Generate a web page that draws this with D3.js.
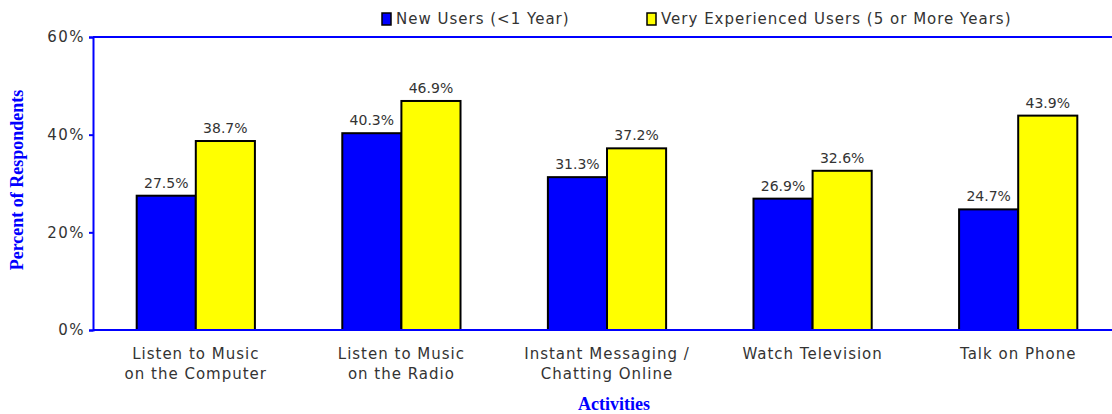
<!DOCTYPE html>
<html>
<head>
<meta charset="utf-8">
<script src="https://cdn.jsdelivr.net/npm/d3@7"></script>
<style>
  body { margin: 0; background: #fff; }
  svg text { font-family: Verdana, "DejaVu Sans", sans-serif; fill: #333; }
  .title { font-family: "Liberation Serif", "Times New Roman", serif; font-weight: bold; fill: #0000ff; }
</style>
</head>
<body>
<svg id="chart" width="1112" height="414"></svg>
<script>
var categories = [
    ["Listen to Music", "on the Computer"],
    ["Listen to Music", "on the Radio"],
    ["Instant Messaging /", "Chatting Online"],
    ["Watch Television"],
    ["Talk on Phone"]
];
var seriesNames = ["New Users (<1 Year)", "Very Experienced Users (5 or More Years)"];
var newUsers = [27.5, 40.3, 31.3, 26.9, 24.7];
var veteranUsers = [38.7, 46.9, 37.2, 32.6, 43.9];
var yTicks = [0, 20, 40, 60];
var colors = ["#0000ff", "#ffff00"];

var svg = d3.select("#chart");
var plotL = 93, plotT = 37, plotB = 330, plotR = 1121;

var x = d3.scaleBand()
    .domain(d3.range(categories.length))
    .range([plotL, plotR])
    .paddingInner(0.425)
    .paddingOuter(0.2125);
var sub = d3.scaleBand()
    .domain([0, 1])
    .range([0, x.bandwidth()]);
var y = d3.scaleLinear()
    .domain([0, 60])
    .range([plotB, plotT]);

// top frame line
svg.append("line").attr("x1", plotL).attr("x2", 1112).attr("y1", plotT).attr("y2", plotT)
    .attr("stroke", "#0000ff").attr("stroke-width", 2);

var yAxis = svg.append("g")
    .attr("transform", "translate(" + plotL + ",0)")
    .call(d3.axisLeft(y).tickValues(yTicks).tickSize(4).tickFormat((d) => d + "%"));
yAxis.select(".domain").attr("stroke", "#0000ff").attr("stroke-width", 2);
yAxis.selectAll(".tick line").attr("stroke", "#0000ff").attr("stroke-width", 2);
yAxis.selectAll(".tick text").attr("font-size", 15).attr("fill", "#333").attr("x", -8)
    .attr("letter-spacing", 1.5)
    .style("font-family", "Verdana, 'DejaVu Sans', sans-serif");

var data = [newUsers, veteranUsers];
data.forEach(function (vals, s) {
    var g = svg.append("g");
    g.selectAll("rect")
        .data(vals)
        .enter()
        .append("rect")
        .attr("x", (d, i) => x(i) + sub(s))
        .attr("y", (d) => y(d))
        .attr("width", sub.bandwidth())
        .attr("height", (d) => y(0) - y(d))
        .attr("fill", colors[s])
        .attr("stroke", "#000")
        .attr("stroke-width", 2);
    g.selectAll("text")
        .data(vals)
        .enter()
        .append("text")
        .attr("x", (d, i) => x(i) + sub(s) + sub.bandwidth() / 2)
        .attr("y", (d) => y(d) - 8)
        .attr("text-anchor", "middle")
        .attr("font-size", 14)
        .text((d) => d.toFixed(1) + "%");
});

// bottom axis line
svg.append("line").attr("x1", plotL).attr("x2", 1112).attr("y1", plotB).attr("y2", plotB)
    .attr("stroke", "#0000ff").attr("stroke-width", 2);

// category labels
var cat = svg.append("g").selectAll("text")
    .data(categories)
    .enter()
    .append("text")
    .attr("x", (d, i) => x(i) + x.bandwidth() / 2)
    .attr("y", 359)
    .attr("text-anchor", "middle")
    .attr("font-size", 15)
    .attr("letter-spacing", 1);
cat.selectAll("tspan")
    .data((d) => d)
    .enter()
    .append("tspan")
    .attr("x", function () { return d3.select(this.parentNode).attr("x"); })
    .attr("dy", (d, j) => j === 0 ? 0 : 20)
    .text((d) => d);

// axis titles
svg.append("text").attr("class", "title")
    .attr("x", 614).attr("y", 410)
    .attr("text-anchor", "middle").attr("font-size", 18)
    .text("Activities");
svg.append("text").attr("class", "title")
    .attr("transform", "translate(23,180) rotate(-90)")
    .attr("text-anchor", "middle").attr("font-size", 18)
    .text("Percent of Respondents");

// legend
var legendX = [382, 647];
var lg = svg.append("g").selectAll("g")
    .data(seriesNames)
    .enter()
    .append("g")
    .attr("transform", (d, i) => "translate(" + legendX[i] + ",13)");
lg.append("rect").attr("width", 9).attr("height", 12)
    .attr("fill", (d, i) => colors[i]).attr("stroke", "#000").attr("stroke-width", 1.5);
lg.append("text").attr("x", 14).attr("y", 11).attr("font-size", 15)
    .attr("letter-spacing", 1).text((d) => d);
</script>
</body>
</html>
